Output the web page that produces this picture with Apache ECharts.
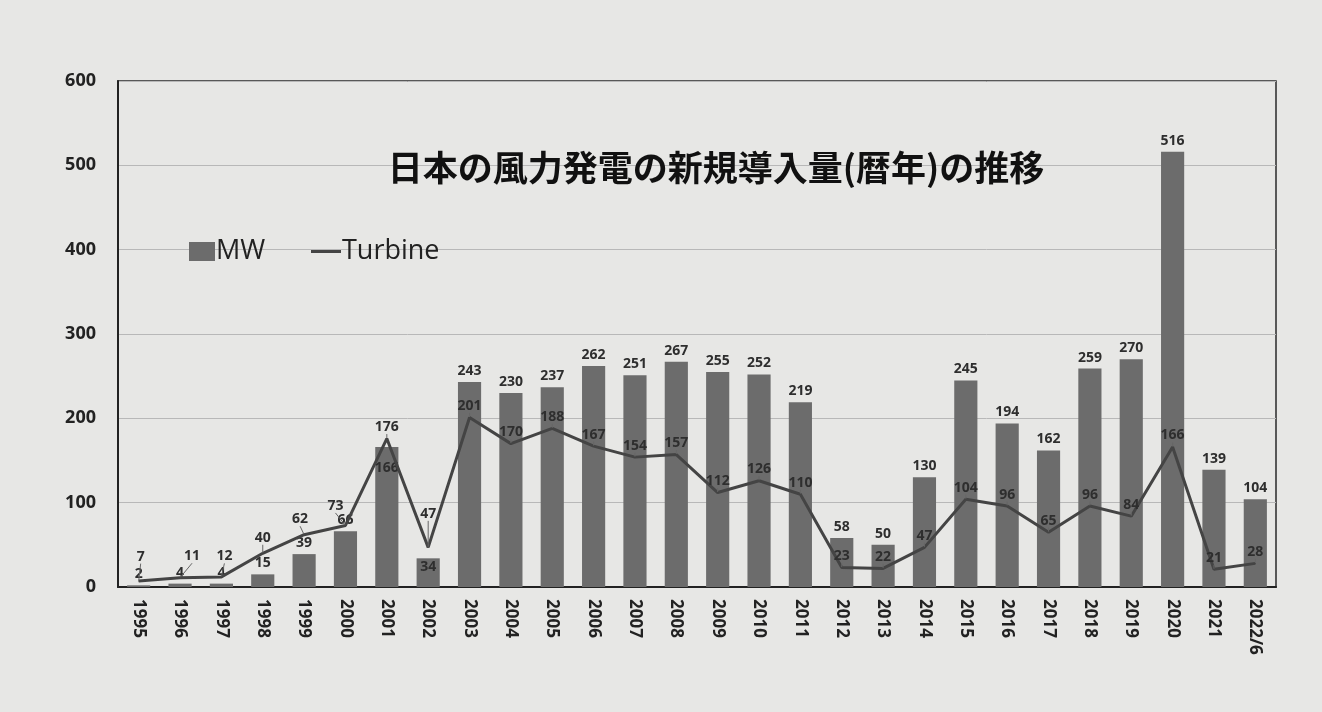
<!DOCTYPE html>
<html>
<head>
<meta charset="utf-8">
<script src="https://cdn.jsdelivr.net/npm/echarts@6/dist/echarts.min.js"></script>
<style>
html,body{margin:0;padding:0;background:#e7e7e5;}
#c{width:1322px;height:712px;}
</style>
</head>
<body>
<div id="c"></div>
<script>
const categories = ['1995','1996','1997','1998','1999','2000','2001','2002','2003','2004','2005','2006','2007','2008','2009','2010','2011','2012','2013','2014','2015','2016','2017','2018','2019','2020','2021','2022/6'];
const mwValues = [2,4,4,15,39,66,166,34,243,230,237,262,251,267,255,252,219,58,50,130,245,194,162,259,270,516,139,104];
const turbineValues = [7,11,12,40,62,73,176,47,201,170,188,167,154,157,112,126,110,23,22,47,104,96,65,96,84,166,21,28];
const yTicks = [0,100,200,300,400,500,600];

const chart = echarts.init(document.getElementById('c'));
const labelFont = {fontFamily:'Open Sans, DejaVu Sans, sans-serif', fontWeight:'bold', fontSize:14, color:'#2e2e2e'};
const turbineLabelShift = [[2,-13],[12,-10],[3,-9],[0,-4],[-4,-4],[-10,-8],[0,0],[0,-22]];
chart.setOption({
  backgroundColor:'#e7e7e5',
  animation:false,
  title:{
    text:'日本の風力発電の新規導入量(暦年)の推移',
    left:711, top:145, textAlign:'center',
    textStyle:{fontFamily:'Noto Sans CJK JP', fontWeight:'bold', fontSize:35, color:'#111'}
  },
  legend:[
    {data:[{name:'MW', icon:'rect'}], left:184, top:233, itemWidth:26, itemHeight:19, itemGap:10,
     textStyle:{fontFamily:'Open Sans, sans-serif', fontSize:27, color:'#222', padding:[0,0,0,-4]}},
    {data:[{name:'Turbine', icon:'path://M0,0 H40 V4 H0 Z'}], left:306, top:233, itemWidth:30, itemHeight:3, itemGap:10,
     itemStyle:{color:'#444'},
     textStyle:{fontFamily:'Open Sans, sans-serif', fontSize:27, color:'#222', padding:[0,0,0,-4]}}
  ],
  grid:{left:118, right:46, top:81, bottom:125, show:true, borderColor:'#2a2a2a', borderWidth:1.5, backgroundColor:'transparent'},
  xAxis:{
    type:'category', data:categories,
    axisLine:{lineStyle:{color:'#222', width:2}},
    axisTick:{show:false},
    axisLabel:{rotate:-90, margin:12, fontFamily:'Open Sans, DejaVu Sans, sans-serif', fontWeight:'bold', fontSize:17, color:'#222'}
  },
  yAxis:{
    type:'value', min:yTicks[0], max:yTicks[yTicks.length-1], interval:yTicks[1]-yTicks[0],
    axisLine:{show:true, lineStyle:{color:'#222', width:2}},
    axisTick:{show:false},
    splitLine:{lineStyle:{color:'#b8b8b8', width:1}},
    axisLabel:{margin:22, fontFamily:'Open Sans, DejaVu Sans, sans-serif', fontWeight:'bold', fontSize:18, color:'#222'}
  },
  series:[
    {
      name:'MW', type:'bar', data:mwValues, barWidth:'56%',
      itemStyle:{color:'#6c6c6c'},
      label:Object.assign({show:true, position:'top', distance:4}, labelFont),
      labelLayout:function(p){
        if (p.dataIndex === 6) return {dy:32};
        if (p.dataIndex === 7) return {dy:20};
        return {};
      }
    },
    {
      name:'Turbine', type:'line', data:turbineValues,
      symbol:'circle', symbolSize:1, showSymbol:true, z:3,
      itemStyle:{color:'#444'},
      lineStyle:{color:'#444', width:3},
      label:Object.assign({show:true, position:'top', distance:4}, labelFont),
      labelLine:{show:true, lineStyle:{color:'#666', width:1}},
      labelLayout:function(p){
        const s = turbineLabelShift[p.dataIndex];
        return s ? {dx:s[0], dy:s[1]} : {};
      }
    }
  ]
});
</script>
</body>
</html>
